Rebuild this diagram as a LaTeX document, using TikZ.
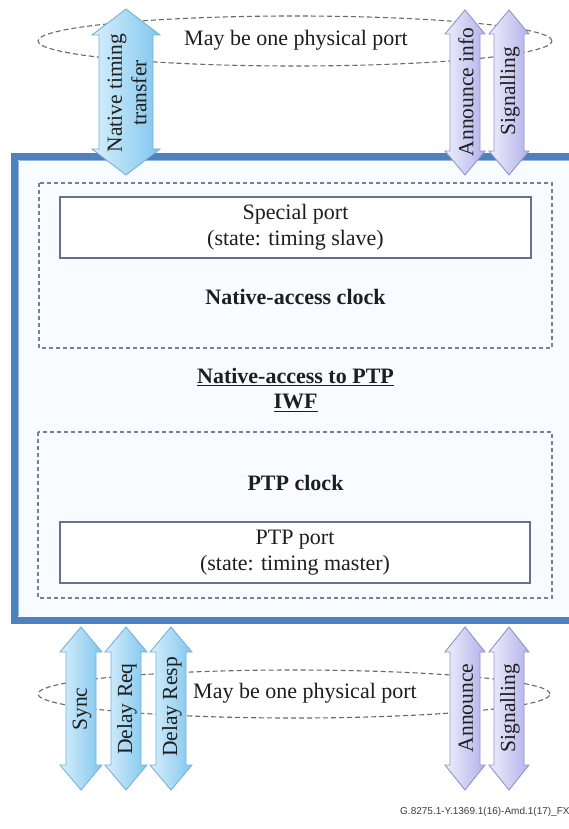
\documentclass[tikz,border=0pt]{standalone}
\usepackage{fontspec}
\setmainfont{Liberation Serif}[Ligatures=TeX]
\newfontfamily\serifmain{Liberation Serif}
\newfontfamily\footfont{Liberation Sans}
\definecolor{bordc}{RGB}{79,129,189}
\definecolor{bordl}{RGB}{150,182,226}
\definecolor{boxfill}{RGB}{248,251,255}
\definecolor{dashc}{RGB}{118,128,150}
\definecolor{portc}{RGB}{105,112,140}
\definecolor{txtc}{RGB}{30,30,30}
\definecolor{ellc}{RGB}{105,105,105}
\definecolor{blueL}{RGB}{216,239,251}
\definecolor{blueR}{RGB}{128,198,238}
\definecolor{blueb}{RGB}{118,178,218}
\definecolor{lavL}{RGB}{238,238,252}
\definecolor{lavR}{RGB}{178,178,234}
\definecolor{lavb}{RGB}{148,148,205}
\definecolor{footc}{RGB}{60,60,60}
% #1 cx, #2 ytop, #3 ybottom, #4 shaft half width, #5 head half width, #6 head length, #7 style
\newcommand{\blockdarrow}[7]{%
  \path[#7] (#1,#2) -- (#1+#5,#2+#6) -- (#1+#4,#2+#6) -- (#1+#4,#3-#6)
    -- (#1+#5,#3-#6) -- (#1,#3) -- (#1-#5,#3-#6) -- (#1-#4,#3-#6)
    -- (#1-#4,#2+#6) -- (#1-#5,#2+#6) -- cycle;}
\tikzset{
  dashbox/.style={draw=dashc, line width=1.1pt, dash pattern=on 4pt off 3pt},
  portbox/.style={draw=portc, line width=1.2pt, fill=white},
  maintxt/.style={font=\serifmain\fontsize{22}{26}\selectfont, text=txtc, inner sep=0pt, align=center},
  boldtxt/.style={font=\serifmain\bfseries\fontsize{22}{25}\selectfont, text=txtc, inner sep=0pt, align=center},
  arrtxt/.style={font=\serifmain\fontsize{21.5}{24.5}\selectfont, text=txtc, rotate=90, inner sep=0pt, align=center},
  bluearr/.style={draw=blueb, line width=0.9pt, left color=blueL, right color=blueR},
  lavarr/.style={draw=lavb, line width=0.9pt, left color=lavL, right color=lavR},
  portell/.style={draw=ellc, line width=1.1pt, dash pattern=on 5pt off 3pt},
}
\begin{document}
\begin{tikzpicture}[x=1pt,y=-1pt]
\useasboundingbox (0,0) rectangle (569,829);
\fill[white] (0,0) rectangle (569,829);

% outer IWF box
\draw[fill=boxfill, draw=bordc, line width=7pt] (14.5,156.5) rectangle (585,620.5);
\draw[draw=bordl, line width=1.2pt] (18.6,160.6) -- (18.6,616.4);
\draw[draw=bordl, line width=1.2pt] (18.6,160.6) -- (585,160.6);

% native-access clock
\draw[dashbox] (39,183) rectangle (552,348);
\node[portbox, minimum width=471pt, minimum height=61pt, inner sep=0pt] (sport) at (295.5,227.5) {};
\node[maintxt] (sporttxt) at (295.5,227.5) {Special port\\(state: timing slave)};
\node[boldtxt] (naclk) at (295.5,297) {Native-access clock};

% IWF title
\node[boldtxt] (iwf) at (295.5,390) {\underline{Native-access to PTP}\\\underline{IWF}};

% PTP clock
\draw[dashbox] (38,432) rectangle (552,598);
\node[boldtxt] (ptpclk) at (295.5,483) {PTP clock};
\node[portbox, minimum width=470pt, minimum height=61pt, inner sep=0pt] (pport) at (295,552.5) {};
\node[maintxt] (pporttxt) at (295,553) {PTP port\\(state: timing master)};

% top "physical port" ellipse
\draw[portell] (295,41) ellipse [x radius=257pt, y radius=25pt];
\node[maintxt] (topport) at (296,40) {May be one physical port};

% bottom "physical port" ellipse
\draw[portell] (294,694) ellipse [x radius=256pt, y radius=24pt];
\node[maintxt] (botport) at (305,693) {May be one physical port};

% top arrows
\blockdarrow{126}{9}{175}{27}{34}{26}{bluearr}
\node[arrtxt] (native) at (127,93) {Native timing\\transfer};
\blockdarrow{465}{10}{175}{15}{20}{24}{lavarr}
\node[arrtxt] (annInfo) at (466,92) {Announce info};
\blockdarrow{509}{10}{175}{15}{20}{24}{lavarr}
\node[arrtxt] (sigTop) at (510,91) {Signalling};

% bottom arrows
\blockdarrow{81}{627}{790}{15}{21}{25}{bluearr}
\node[arrtxt] (sync) at (82,709) {Sync};
\blockdarrow{126}{627}{790}{15}{21}{25}{bluearr}
\node[arrtxt] (dreq) at (127,709) {Delay Req};
\blockdarrow{171}{627}{790}{15}{21}{25}{bluearr}
\node[arrtxt] (dresp) at (172,707) {Delay Resp};
\blockdarrow{465}{627}{790}{15}{20}{25}{lavarr}
\node[arrtxt] (ann) at (466,708) {Announce};
\blockdarrow{509}{627}{790}{15}{20}{25}{lavarr}
\node[arrtxt] (sigBot) at (510,708) {Signalling};

% figure code
\node[anchor=west, inner sep=0pt, text=footc, font=\footfont\fontsize{10}{12}\selectfont] (code) at (400,812) {G.8275.1-Y.1369.1(16)-Amd.1(17)\_FX};
\end{tikzpicture}
\end{document}
